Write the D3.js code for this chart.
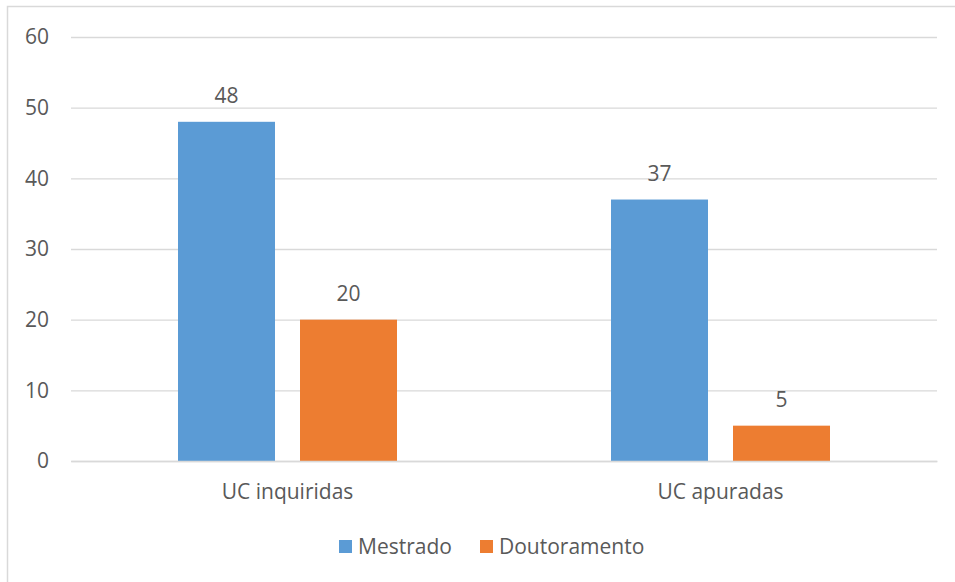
<!DOCTYPE html>
<html>
<head>
<meta charset="utf-8">
<script src="https://cdn.jsdelivr.net/npm/d3@7"></script>
<style>
  html, body { margin: 0; padding: 0; background: #fff; }
  svg { display: block; }
  text { font-family: "Open Sans", "DejaVu Sans", sans-serif; fill: #595959; }
</style>
</head>
<body>
<svg id="chart" width="955" height="582"></svg>
<script>
const categories = ["UC inquiridas", "UC apuradas"];
const seriesNames = ["Mestrado", "Doutoramento"];
const mestrado = [48, 37];
const doutoramento = [20, 5];
const yTicks = [0, 10, 20, 30, 40, 50, 60];
const colors = ["#5B9BD5", "#ED7D31"];

const svg = d3.select("#chart");
const W = 955, H = 582;
const FS = 21;

// outer frame
svg.append("rect").attr("x", 7.5).attr("y", 6.5).attr("width", W).attr("height", H)
  .attr("fill", "#fff").attr("stroke", "#d9d9d9").attr("stroke-width", 1.5);

const plot = { left: 71, right: 937, top: 37, bottom: 461 };

const x0 = d3.scaleBand().domain(categories).range([plot.left, plot.right]).paddingInner(0).paddingOuter(0);
const x1 = d3.scaleBand().domain(seriesNames).range([0, x0.bandwidth()]).paddingInner(0.205).paddingOuter(0.877);
const y = d3.scaleLinear().domain([0, 60]).range([plot.bottom, plot.top]);

// gridlines
const yAxis = d3.axisLeft(y).tickValues(yTicks).tickSize(-(plot.right - plot.left)).tickPadding(22).tickFormat(d3.format("d"));
const gy = svg.append("g").attr("transform", `translate(${plot.left},0)`).call(yAxis);
gy.select(".domain").remove();
gy.selectAll(".tick line").attr("stroke", "#d9d9d9").attr("stroke-width", 1.3);
gy.selectAll(".tick text").attr("font-size", FS).style("fill", "#595959")
  .attr("font-family", "'Open Sans', sans-serif");

const data = categories.map((c, i) => ({ cat: c, vals: [
  { s: seriesNames[0], v: mestrado[i] },
  { s: seriesNames[1], v: doutoramento[i] }
]}));

const groups = svg.append("g").selectAll("g").data(data).join("g")
  .attr("transform", d => `translate(${x0(d.cat)},0)`);

groups.selectAll("rect").data(d => d.vals).join("rect")
  .attr("x", d => x1(d.s))
  .attr("width", x1.bandwidth())
  .attr("y", d => y(d.v))
  .attr("height", d => y(0) - y(d.v))
  .attr("fill", (d, i) => colors[i]);

groups.selectAll("text.lbl").data(d => d.vals).join("text")
  .attr("class", "lbl")
  .attr("x", d => x1(d.s) + x1.bandwidth() / 2)
  .attr("y", d => y(d.v) - 19)
  .attr("text-anchor", "middle")
  .attr("font-size", FS)
  .text(d => d.v);

// x axis labels
const xAxis = d3.axisBottom(x0).tickSize(0).tickPadding(23);
const gx = svg.append("g").attr("transform", `translate(0,${plot.bottom})`).call(xAxis);
gx.select(".domain").attr("stroke", "#d9d9d9").attr("stroke-width", 1.3);
gx.selectAll(".tick text").attr("font-size", FS).style("fill", "#595959")
  .attr("font-family", "'Open Sans', sans-serif");

// legend
const legend = svg.append("g");
const legItems = [
  { name: seriesNames[0], color: colors[0], x: 339 },
  { name: seriesNames[1], color: colors[1], x: 480 }
];
legItems.forEach(it => {
  legend.append("rect").attr("x", it.x).attr("y", 540).attr("width", 13).attr("height", 13).attr("fill", it.color);
  legend.append("text").attr("x", it.x + 19).attr("y", 554).attr("font-size", FS).text(it.name);
});
</script>
</body>
</html>
